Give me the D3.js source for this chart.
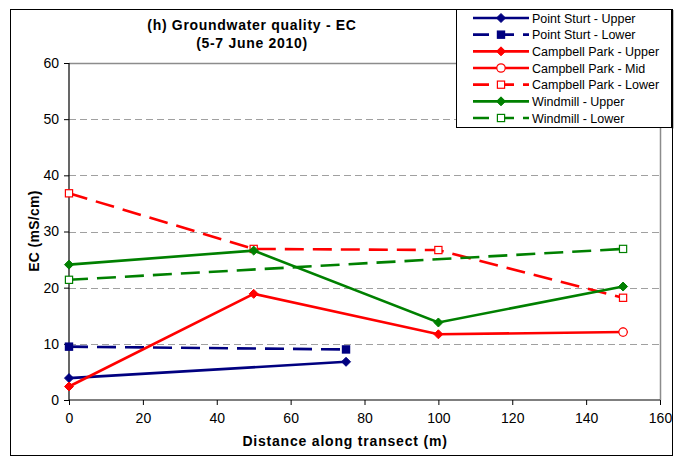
<!DOCTYPE html>
<html>
<head>
<meta charset="utf-8">
<script src="https://cdn.jsdelivr.net/npm/d3@7"></script>
<style>
  html, body { margin: 0; padding: 0; background: #fff; }
  svg { display: block; font-family: "Liberation Sans", Arial, sans-serif; }
</style>
</head>
<body>
<svg id="chart" width="685" height="457"></svg>
<script>
// Groundwater EC along transects, 5-7 June 2010
const xTicks = [0, 20, 40, 60, 80, 100, 120, 140, 160];
const yTicks = [0, 10, 20, 30, 40, 50, 60];

const pointSturtUpperX = [0, 75];
const pointSturtUpperY = [3.9, 6.8];
const pointSturtLowerX = [0, 75];
const pointSturtLowerY = [9.5, 9.0];
const campbellUpperX = [0, 50, 100, 150];
const campbellUpperY = [2.4, 18.9, 11.7, 12.1];
const campbellMidX = [150];
const campbellMidY = [12.1];
const campbellLowerX = [0, 50, 100, 150];
const campbellLowerY = [36.8, 26.9, 26.7, 18.2];
const windmillUpperX = [0, 50, 100, 150];
const windmillUpperY = [24.1, 26.6, 13.8, 20.2];
const windmillLowerX = [0, 150];
const windmillLowerY = [21.4, 26.9];

const NAVY = "#000080", RED = "#ff0000", GREEN = "#008000";

const series = [
  { name: "Point Sturt - Upper",   xs: pointSturtUpperX, ys: pointSturtUpperY, color: NAVY,  dash: null,   marker: "diamond", fill: true },
  { name: "Point Sturt - Lower",   xs: pointSturtLowerX, ys: pointSturtLowerY, color: NAVY,  dash: "19,9", marker: "square",  fill: true },
  { name: "Campbell Park - Upper", xs: campbellUpperX,   ys: campbellUpperY,   color: RED,   dash: null,   marker: "diamond", fill: true },
  { name: "Campbell Park - Mid",   xs: campbellMidX,     ys: campbellMidY,     color: RED,   dash: null,   marker: "circle",  fill: false },
  { name: "Campbell Park - Lower", xs: campbellLowerX,   ys: campbellLowerY,   color: RED,   dash: "19,9", marker: "square",  fill: false },
  { name: "Windmill - Upper",      xs: windmillUpperX,   ys: windmillUpperY,   color: GREEN, dash: null,   marker: "diamond", fill: true },
  { name: "Windmill - Lower",      xs: windmillLowerX,   ys: windmillLowerY,   color: GREEN, dash: "19,9", marker: "square",  fill: false }
];

const svg = d3.select("#chart");
const plot = { left: 69, right: 660, top: 63, bottom: 400 };

const x = d3.scaleLinear().domain([0, 160]).range([plot.left, plot.right]);
const y = d3.scaleLinear().domain([0, 60]).range([plot.bottom, plot.top]);

// outer frame
svg.append("rect")
  .attr("x", 10.5).attr("y", 9.5).attr("width", 662).attr("height", 446)
  .attr("fill", "#fff").attr("stroke", "#000").attr("stroke-width", 1);

// gridlines
svg.append("g")
  .selectAll("line")
  .data(yTicks.filter(v => v > 0 && v < 60))
  .join("line")
  .attr("x1", plot.left).attr("x2", plot.right)
  .attr("y1", d => Math.round(y(d)) + 0.5).attr("y2", d => Math.round(y(d)) + 0.5)
  .attr("stroke", "#a0a0a0").attr("stroke-width", 1).attr("stroke-dasharray", "7,4");

// plot border (top and right)
svg.append("path")
  .attr("d", `M${plot.left},${plot.top + 0.5}H${plot.right + 0.5}V${plot.bottom}`)
  .attr("fill", "none").attr("stroke", "#8c8c8c").attr("stroke-width", 1.5);

// axes
const xAxis = d3.axisBottom(x).tickValues(xTicks).tickSize(5).tickPadding(8).tickFormat(d3.format("d"));
const yAxis = d3.axisLeft(y).tickValues(yTicks).tickSize(5).tickPadding(5).tickFormat(d3.format("d"));

const gx = svg.append("g").attr("transform", `translate(0,${plot.bottom})`).call(xAxis);
const gy = svg.append("g").attr("transform", `translate(${plot.left},0)`).call(yAxis);
[gx, gy].forEach(g => {
  g.select(".domain").attr("stroke", "#000").attr("stroke-width", 1.2);
  g.selectAll(".tick line").attr("stroke", "#000");
  g.selectAll(".tick text").attr("fill", "#000").attr("font-size", 14)
    .attr("font-family", "'Liberation Sans', Arial, sans-serif");
});
gy.select(".domain").attr("d", `M0,${plot.top}V${plot.bottom}`);
gx.select(".domain").attr("d", `M${plot.left},0H${plot.right}`);

// marker drawing
function drawMarker(g, type, cx, cy, color, filled, scale = 1) {
  if (type === "diamond") {
    const r = 4.5 * scale;
    g.append("path")
      .attr("d", `M${cx},${cy - r}L${cx + r},${cy}L${cx},${cy + r}L${cx - r},${cy}Z`)
      .attr("fill", color).attr("stroke", color).attr("stroke-width", 1);
  } else if (type === "square") {
    const s = 3.6 * scale;
    g.append("rect")
      .attr("x", cx - s).attr("y", cy - s).attr("width", 2 * s).attr("height", 2 * s)
      .attr("fill", filled ? color : "#fff").attr("stroke", color).attr("stroke-width", 1.2);
  } else if (type === "circle") {
    g.append("circle")
      .attr("cx", cx).attr("cy", cy).attr("r", 4.2 * scale)
      .attr("fill", "#fff").attr("stroke", color).attr("stroke-width", 1.2);
  }
}

const line = d3.line().x(d => x(d[0])).y(d => y(d[1]));
const gSeries = svg.append("g");
series.forEach(s => {
  const pts = s.xs.map((v, i) => [v, s.ys[i]]);
  const g = gSeries.append("g");
  if (pts.length > 1) {
    g.append("path")
      .attr("d", line(pts))
      .attr("fill", "none").attr("stroke", s.color).attr("stroke-width", 2.6)
      .attr("stroke-dasharray", s.dash);
  }
  pts.forEach(p => drawMarker(g, s.marker, x(p[0]), y(p[1]), s.color, s.fill));
});

// title
const title = svg.append("text")
  .attr("x", 252).attr("y", 30)
  .attr("text-anchor", "middle").attr("font-weight", "bold").attr("font-size", 14)
  .attr("letter-spacing", 0.7);
title.append("tspan").attr("x", 252).attr("dy", 0).text("(h) Groundwater quality - EC");
title.append("tspan").attr("x", 252).attr("dy", 18).text("(5-7 June 2010)");

// axis titles
svg.append("text")
  .attr("x", 345).attr("y", 446)
  .attr("text-anchor", "middle").attr("font-weight", "bold").attr("font-size", 14)
  .attr("letter-spacing", 0.8)
  .text("Distance along transect (m)");

svg.append("text")
  .attr("transform", `translate(39,231) rotate(-90)`)
  .attr("text-anchor", "middle").attr("font-weight", "bold").attr("font-size", 14)
  .attr("letter-spacing", 0.3)
  .text("EC (mS/cm)");

// legend
const legend = svg.append("g");
legend.append("rect")
  .attr("x", 456.5).attr("y", 9.5).attr("width", 215).attr("height", 118)
  .attr("fill", "#fff").attr("stroke", "#000").attr("stroke-width", 1);
legend.append("line")
  .attr("x1", 672.5).attr("x2", 672.5).attr("y1", 10).attr("y2", 128.5)
  .attr("stroke", "#000").attr("stroke-width", 1.5);

const legY = d3.scaleLinear().domain([0, 6]).range([18, 118]);
series.forEach((s, i) => {
  const ly = legY(i);
  const g = legend.append("g");
  g.append("line")
    .attr("x1", 473).attr("x2", 529).attr("y1", ly).attr("y2", ly)
    .attr("stroke", s.color).attr("stroke-width", 2.6)
    .attr("stroke-dasharray", s.dash ? "16,9" : null);
  drawMarker(g, s.marker, 501, ly, s.color, s.fill);
  g.append("text")
    .attr("x", 532).attr("y", ly + 4.5)
    .attr("font-size", 12.5).attr("fill", "#000")
    .text(s.name);
});
</script>
</body>
</html>
